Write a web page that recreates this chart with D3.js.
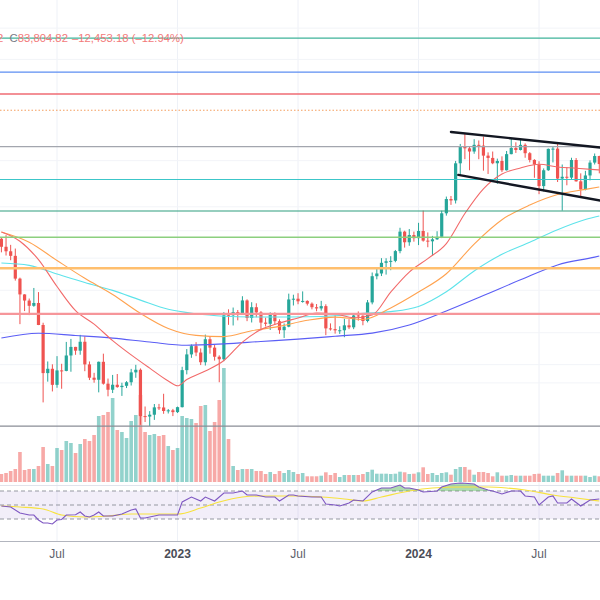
<!DOCTYPE html>
<html>
<head>
<meta charset="utf-8">
<script src="https://cdn.jsdelivr.net/npm/d3@7"></script>
<style>
  body { margin: 0; background: #fff; }
  svg { display: block; font-family: "Liberation Sans", Arial, sans-serif; }
</style>
</head>
<body>
<script>
// weekly BTC candles, first bar = week of 2022-04-11
var opens  = [42150,40380,39420,38470,34060,31300,30290,29450,29900,26580,20550,21030,19300,20850,20790,22580,23640,23170,24300,21530,
              20050,19830,21830,19420,18800,19310,19070,19200,19570,20630,20920,16330,16290,16450,17110,17100,16780,16840,16680,17130,
              20880,22710,23740,22940,21780,24630,23550,22430,22130,28000,27990,28470,28330,30310,27590,29230,28430,26920,26750,28080,
              27120,25850,26340,30470,30590,30170,30230,29790,29230,29040,29400,26100,26000,25830,25840,26530,26250,27970,27930,27150,
              29990,34500,35010,37060,37370,37450,39460,43790,41370,43000,42280,43940,41730,41580,42030,42580,48300,52130,51730,63100,
              68960,68370,67210,69650,69360,65740,64940,63120,63890,60800,66270,68500,67760,69650,66600,64250,62700,55860,60800,68160,
              68250,58160,58720,58450,64220,57300,54870,59130,63340,65600];
var highs  = [42420,42980,40800,40000,34240,31330,30620,32400,31690,26900,21870,21540,22500,21600,24280,24670,23650,25210,25000,21870,
              20580,21860,22800,19960,20350,20450,19520,19690,21020,21480,21070,17190,16770,17420,17430,18400,16960,16970,17180,21260,
              23370,23960,24250,23450,25250,25020,23880,22600,28470,28900,29180,28800,31000,30490,30020,29850,28630,27650,28440,28440,
              27400,26800,31430,31250,31500,31810,30330,29990,29730,30240,29690,26810,28140,26400,27480,27430,28050,28580,28000,30380,
              35190,35960,38000,37980,38400,39700,44700,44000,44400,43800,45900,49000,43600,42800,43880,48970,52820,52980,63900,69990,
              73780,68900,71770,71300,72800,66900,67200,64700,65500,67400,71950,70600,71950,70200,67000,64500,63800,61400,68300,68900,
              70080,62700,61800,65000,64900,59800,60600,64100,66500,65700];
var lows   = [39200,38540,37580,33700,26700,28630,28020,29300,26560,17570,19630,18630,19000,18900,20750,20700,22660,22670,20760,19800,
              19520,18540,19320,18150,18470,19000,18190,18970,19230,20040,15590,15820,15480,16000,16870,16530,16560,16330,16600,17100,
              20410,22300,22500,21450,21400,22800,21970,19570,21900,26600,26510,27250,28170,27130,26940,27700,25820,26370,25880,26600,
              25350,24800,26260,29500,29700,29950,29500,28900,28600,28700,25170,25800,25380,25340,24900,26000,25990,27200,26540,26950,
              29680,33930,34530,34800,35630,37170,39000,40200,40600,41500,40750,41500,40280,38500,41880,42300,47700,50520,50900,59000,
              64500,60800,66400,64500,60660,59600,62800,56550,60200,60700,66200,66700,67600,65000,63400,58400,53500,54300,60600,63400,
              57100,49000,56100,57800,57200,52550,54600,57600,62700,59800];
var closes = [40380,39420,38470,34060,31300,30290,29450,29900,26580,20550,21030,19300,20850,20790,22580,23640,23170,24300,21530,20050,
              19830,21830,19420,18800,19310,19070,19200,19570,20630,20920,16330,16290,16450,17110,17100,16780,16840,16680,17130,20880,
              22710,23740,22940,21780,24630,23550,22430,22130,28000,27990,28470,28330,30310,27590,29230,28430,26920,26750,28080,27120,
              25850,26340,30470,30590,30170,30230,29790,29230,29040,29400,26100,26000,25830,25840,26530,26250,27970,27930,27150,29990,
              34500,35010,37060,37370,37450,39460,43790,41370,43000,42280,43940,41730,41580,42030,42580,48300,52130,51730,63100,68960,
              68370,67210,69650,69360,65740,64940,63120,63890,60800,66270,68500,67760,69650,66600,64250,62700,55860,60800,68160,68250,
              58160,58720,58450,64220,57300,54870,59130,63340,65600,62850];
// volume, thousands
var volumes = [80,90,110,130,300,120,130,130,160,350,180,160,340,320,410,390,290,380,430,410,
               470,660,670,700,840,520,500,440,610,670,870,500,470,480,460,470,360,320,340,660,
               640,630,590,760,770,510,600,820,1140,430,160,120,130,130,130,110,110,80,100,80,
               110,90,120,100,80,90,57,57,57,63,97,70,90,50,70,70,70,70,80,100,
               123,83,83,83,80,83,103,97,80,83,97,147,80,90,70,90,97,73,130,150,
               150,123,73,100,100,90,57,97,63,63,70,63,63,63,63,80,83,63,63,63,
               90,117,63,63,63,63,63,50,63,57];

// moving averages, read at selected weeks
var maRedWeeks  = [0,4,8,12,16,20,24,28,32,36,38,40,44,48,52,56,60,64,68,72,76,80,84,88,92,96,100,104,108,112,116,120,124,128,129];
var maRedValues = [43700,41600,37700,32650,28700,26700,24450,22650,21100,19700,19200,19850,20780,21980,24260,25940,26860,27590,28340,28180,
                   27630,28040,31700,35280,37900,41070,48240,55050,59590,61530,62760,61860,61470,61010,60880];
var maOrangeWeeks  = [0,6,12,18,24,30,36,42,48,54,60,66,72,78,84,90,96,102,108,114,120,126,129];
var maOrangeValues = [43700,41380,37520,34110,31300,28290,26100,25150,24980,25780,26380,27250,27720,27370,29120,31700,34960,40980,46670,50490,
                      53400,54880,55590];
var maCyanWeeks  = [0,6,12,18,24,30,36,42,48,54,60,66,72,78,84,90,96,102,108,114,120,126,129];
var maCyanValues = [37020,36560,34910,33360,31980,30360,28900,28220,27860,27740,27740,27770,27920,28280,28550,29350,31750,35490,38800,41380,
                    44240,46720,47600];
var maBlueWeeks  = [0,8,16,24,32,40,48,56,64,72,80,88,96,104,112,120,128,129];
var maBlueValues = [24790,25430,25120,24780,24260,23850,24030,24340,24640,25030,25450,26590,28640,31100,33840,36650,38210,38430];

// RSI (14) and its moving average, read at selected weeks
var rsiWeeks  = [0,2,4,6,7,8,9,10,11,12,13,14,16,17,18,19,20,21,22,24,26,28,29,30,31,34,36,38,39,41,43,44,46,48,50,52,53,55,57,59,
                 60,62,63,64,67,69,70,72,73,75,76,78,80,82,84,86,87,88,90,91,94,95,97,99,100,102,103,105,106,108,110,112,113,115,116,118,
                 119,120,122,123,125,127,129];
var rsiValues = [48.6,47.1,38.6,35.7,35.7,28.6,24.3,24.3,22.9,28.6,29.3,35.7,36,40,34.3,32.9,35.7,40,34.3,34.3,37.1,42.9,44.3,31.4,31.4,35.7,35.7,35.7,54.3,61.4,
                 55.7,61.4,55.7,67.1,67.1,70,64.3,64.3,61.4,61.4,55.7,64.3,64.3,62.9,61.4,61.4,51.4,50,48.6,52.9,57.1,55.7,68.6,74.3,74.3,78.6,74.3,74.3,71.4,68.6,
                 70,75.7,80,81.4,81,80,75.7,71.4,70,65.7,70,70,62.9,61.4,50,61.4,62.9,52.9,52.9,58.6,48.6,57.1,58.6];
var rsiMaWeeks  = [0,4,9,13,18,23,28,34,38,43,47,52,56,60,64,69,74,78,82,88,93,99,105,109,113,119,124,129];
var rsiMaValues = [48.6,47.1,44.3,35.7,32.9,34.3,37.1,37.1,37.1,45.7,54.3,61.4,62.9,62.9,62.9,61.4,58.6,55.7,61.4,70,74.3,75.7,75.7,74.3,71.4,64.3,60,55.7];

// horizontal levels drawn on the chart
var levelPrices = [123300, 102800, 91400, 69000, 57860, 48900, 42500, 36000, 28200, 15480];
var lastPrice = 83804.82;
// falling channel
var channelUpper = [["2024-02-19", 74600], ["2024-10-07", 68500]];
var channelLower = [["2024-03-01", 59300], ["2024-10-07", 51500]];

var tickDates  = ["2022-07-04", "2023-01-02", "2023-07-03", "2024-01-01", "2024-07-01"];
var tickLabels = ["Jul", "2023", "Jul", "2024", "Jul"];

function run_chart() {
  var width = 600, height = 600;
  var up = "#26a69a", down = "#ef5350";

  var svg = d3.select("body").append("svg")
      .attr("width", width)
      .attr("height", height);

  var weeks = d3.utcMonday.range(new Date(Date.UTC(2022, 3, 11)), new Date(Date.UTC(2024, 9, 1)));
  var parse = d3.utcParse("%Y-%m-%d");

  var x = d3.scaleUtc()
      .domain([weeks[0], weeks[weeks.length - 1]])
      .range([1.4, 599.3]);
  var y = d3.scaleLog()
      .domain([10000, 100000])
      .range([507.8, 77.2]);
  var yVol = d3.scaleLinear().domain([0, 1000]).range([482, 382]);
  var yRsi = d3.scaleLinear().domain([30, 70]).range([519, 491]);

  var bars = weeks.map(function(d, i) {
    return { date: d, o: opens[i], h: highs[i], l: lows[i], c: closes[i], v: volumes[i] };
  });

  var defs = svg.append("defs");
  defs.append("clipPath").attr("id", "mainClip")
    .append("rect").attr("x", 0).attr("y", 0).attr("width", width).attr("height", 485);
  defs.append("clipPath").attr("id", "rsiClip")
    .append("rect").attr("x", 0).attr("y", 477).attr("width", width).attr("height", 63);
  defs.append("clipPath").attr("id", "obClip")
    .append("rect").attr("x", 0).attr("y", 470).attr("width", width).attr("height", yRsi(70) - 470);

  // grid
  var grid = svg.append("g");
  grid.selectAll(".vg")
    .data(tickDates)
    .enter().append("line")
    .attr("x1", function(d) { return x(parse(d)); })
    .attr("x2", function(d) { return x(parse(d)); })
    .attr("y1", 0).attr("y2", 541)
    .attr("stroke", "#eef1f7").attr("stroke-width", 1);
  grid.selectAll(".hg")
    .data([130000, 110000, 64000, 50000, 44000, 38000, 32000, 25500, 21500, 19500])
    .enter().append("line")
    .attr("x1", 0).attr("x2", width)
    .attr("y1", function(d) { return y(d); })
    .attr("y2", function(d) { return y(d); })
    .attr("stroke", "#f2f4f8").attr("stroke-width", 1);

  var main = svg.append("g").attr("clip-path", "url(#mainClip)");

  // volume
  main.append("g").selectAll("rect")
    .data(bars)
    .enter().append("rect")
    .attr("x", function(d) { return x(d.date) - 1.8; })
    .attr("width", 3.6)
    .attr("y", function(d) { return yVol(d.v); })
    .attr("height", function(d) { return yVol(0) - yVol(d.v); })
    .attr("fill", function(d) { return d.c >= d.o ? "rgba(38,166,154,0.5)" : "rgba(239,83,80,0.5)"; });

  // candles
  var candles = main.append("g").selectAll("g")
    .data(bars)
    .enter().append("g");
  candles.append("line")
    .attr("x1", function(d) { return x(d.date); })
    .attr("x2", function(d) { return x(d.date); })
    .attr("y1", function(d) { return y(d.h); })
    .attr("y2", function(d) { return y(d.l); })
    .attr("stroke", function(d) { return d.c >= d.o ? up : down; })
    .attr("stroke-width", 1);
  candles.append("rect")
    .attr("x", function(d) { return x(d.date) - 1.6; })
    .attr("width", 3.2)
    .attr("y", function(d) { return y(Math.max(d.o, d.c)); })
    .attr("height", function(d) { return Math.max(1, Math.abs(y(d.o) - y(d.c))); })
    .attr("fill", function(d) { return d.c >= d.o ? up : down; });

  // moving averages
  var maLine = d3.line()
    .x(function(d) { return x(weeks[d[0]]); })
    .y(function(d) { return y(d[1]); })
    .curve(d3.curveMonotoneX);
  var mas = [
    [maBlueWeeks, maBlueValues, "#5b5ef5"],
    [maCyanWeeks, maCyanValues, "#5ee3ea"],
    [maOrangeWeeks, maOrangeValues, "#ffa24f"],
    [maRedWeeks, maRedValues, "#f26a6a"]
  ];
  mas.forEach(function(m) {
    main.append("path")
      .datum(m[0].map(function(k, i) { return [k, m[1][i]]; }))
      .attr("fill", "none")
      .attr("stroke", m[2])
      .attr("stroke-width", 1.1)
      .attr("d", maLine);
  });

  // horizontal levels
  var levelColors = ["#3fb39a", "#5d8ef2", "#ef6b73", "#a3a6ae", "#3cc6c9", "#2f9e7f", "#8ccf7e", "#ffbf6e", "#f6969a", "#8a8d96"];
  var levelWidths = [1.2, 1.2, 1.6, 1.2, 1.2, 1.2, 1.4, 2.4, 2.4, 1.4];
  main.append("g").selectAll("line")
    .data(levelPrices)
    .enter().append("line")
    .attr("x1", 0).attr("x2", width)
    .attr("y1", function(d) { return y(d); })
    .attr("y2", function(d) { return y(d); })
    .attr("stroke", function(d, i) { return levelColors[i]; })
    .attr("stroke-width", function(d, i) { return levelWidths[i]; });

  main.append("line")
    .attr("x1", 0).attr("x2", width)
    .attr("y1", y(lastPrice)).attr("y2", y(lastPrice))
    .attr("stroke", "#f59d5b")
    .attr("stroke-width", 1)
    .attr("stroke-dasharray", "1.5,2");

  // channel
  [channelUpper, channelLower].forEach(function(c) {
    main.append("line")
      .attr("x1", x(parse(c[0][0]))).attr("y1", y(c[0][1]))
      .attr("x2", x(parse(c[1][0]))).attr("y2", y(c[1][1]))
      .attr("stroke", "#131722")
      .attr("stroke-width", 2.4)
      .attr("stroke-linecap", "round");
  });

  // header text (left part is cut by the frame, as in the original)
  var hdr = svg.append("g").attr("font-size", 11.3).attr("fill", "#f27a7a");
  hdr.append("text").attr("x", -3).attr("y", 42).text("2");
  hdr.append("text").attr("x", 9.5).attr("y", 42)
    .call(function(t) {
      t.append("tspan").attr("fill", "#787b86").text("C");
      t.append("tspan").text("83,804.82");
    });
  hdr.append("text").attr("x", 72).attr("y", 42).text("\u201312,453.18 (\u201312.94%)");

  // RSI pane
  svg.append("line").attr("x1", 0).attr("x2", width).attr("y1", 485.5).attr("y2", 485.5)
    .attr("stroke", "#e0e3eb");
  svg.append("rect")
    .attr("x", 0).attr("width", width)
    .attr("y", yRsi(70)).attr("height", yRsi(30) - yRsi(70))
    .attr("fill", "rgba(126,87,194,0.1)");
  svg.append("g").selectAll("line")
    .data([70, 50, 30])
    .enter().append("line")
    .attr("x1", 0).attr("x2", width)
    .attr("y1", function(d) { return yRsi(d); })
    .attr("y2", function(d) { return yRsi(d); })
    .attr("stroke", "#9598a1")
    .attr("stroke-dasharray", "4,3");

  var rsiPts = rsiWeeks.map(function(k, i) { return [k, rsiValues[i]]; });
  var rsiG = svg.append("g").attr("clip-path", "url(#rsiClip)");
  rsiG.append("path")
    .datum(rsiPts)
    .attr("clip-path", "url(#obClip)")
    .attr("fill", "rgba(76,175,80,0.45)")
    .attr("d", d3.area()
      .x(function(d) { return x(weeks[d[0]]); })
      .y0(yRsi(70))
      .y1(function(d) { return yRsi(d[1]); }));
  rsiG.append("path")
    .datum(rsiMaWeeks.map(function(k, i) { return [k, rsiMaValues[i]]; }))
    .attr("fill", "none")
    .attr("stroke", "#f7e23e")
    .attr("stroke-width", 1.1)
    .attr("d", d3.line()
      .x(function(d) { return x(weeks[d[0]]); })
      .y(function(d) { return yRsi(d[1]); })
      .curve(d3.curveMonotoneX));
  rsiG.append("path")
    .datum(rsiPts)
    .attr("fill", "none")
    .attr("stroke", "#7e57c2")
    .attr("stroke-width", 1.1)
    .attr("d", d3.line()
      .x(function(d) { return x(weeks[d[0]]); })
      .y(function(d) { return yRsi(d[1]); }));

  // time axis
  svg.append("line").attr("x1", 0).attr("x2", width).attr("y1", 541.5).attr("y2", 541.5)
    .attr("stroke", "#b2b5be");
  svg.append("g").selectAll("text")
    .data(tickDates)
    .enter().append("text")
    .attr("x", function(d) { return x(parse(d)); })
    .attr("y", 558)
    .attr("text-anchor", "middle")
    .attr("font-size", 12)
    .attr("font-weight", function(d, i) { return /^\d/.test(tickLabels[i]) ? "bold" : "normal"; })
    .attr("fill", function(d, i) { return /^\d/.test(tickLabels[i]) ? "#4a4d57" : "#5d606b"; })
    .text(function(d, i) { return tickLabels[i]; });
}

window.onload = run_chart;
</script>
</body>
</html>
